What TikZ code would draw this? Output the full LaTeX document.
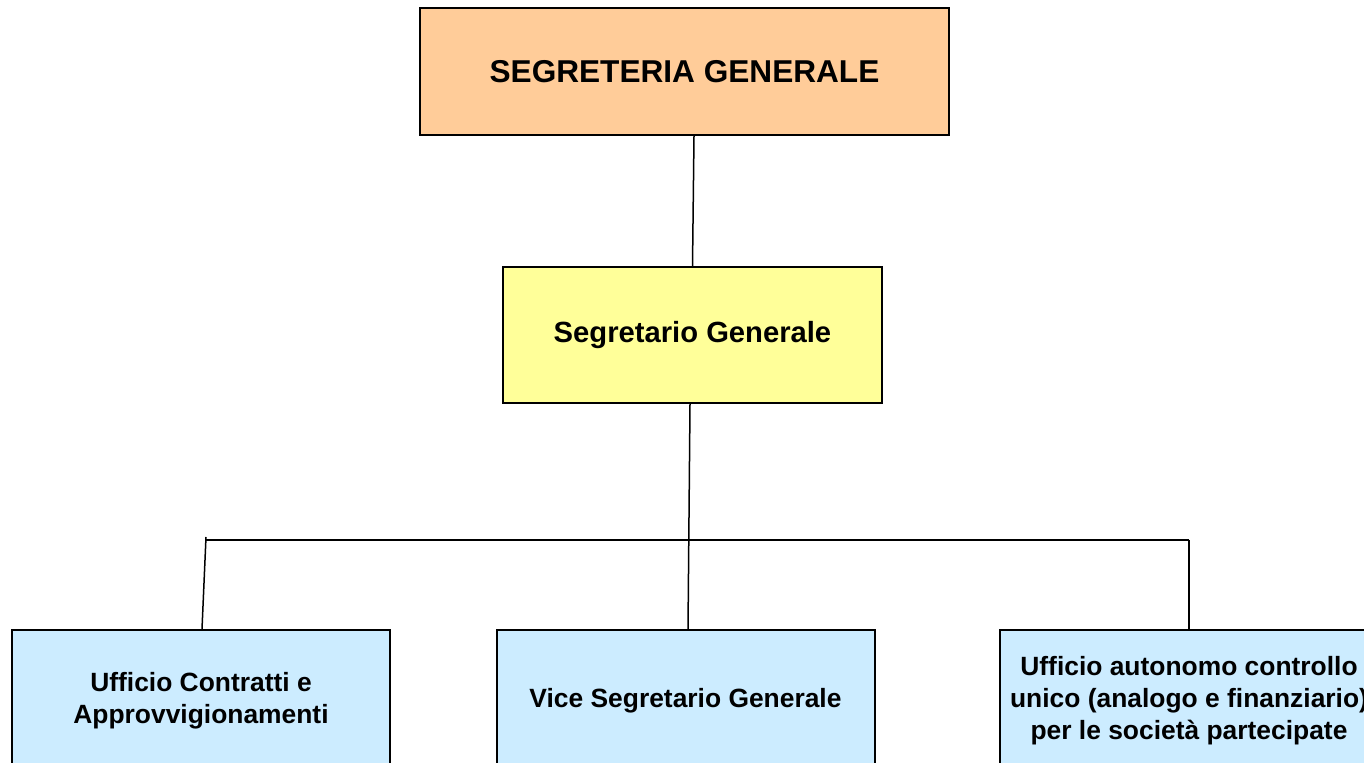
\documentclass[tikz,border=0pt]{standalone}
\usepackage{fontspec}
\setmainfont{Liberation Sans}
\tikzset{
  box/.style={draw=black,line width=1pt,align=center,font=\bfseries,
    inner sep=0pt},
  link/.style={draw=black,line width=0.75pt}
}
\definecolor{capo}{HTML}{FFCC99}
\definecolor{segr}{HTML}{FFFF99}
\definecolor{uff}{HTML}{CCECFF}
\begin{document}
\begin{tikzpicture}[x=0.5pt,y=-0.5pt]
  \useasboundingbox (0,0) rectangle (1364,763);
  \clip (0,0) rectangle (1364,763);
  % livelli
  \node[box,fill=capo,minimum width=264.5pt,minimum height=63.5pt,
    font=\bfseries\fontsize{15.8}{19}\selectfont] (sg) at (684.5,71.5)
    {SEGRETERIA GENERALE};
  \node[box,fill=segr,minimum width=189.5pt,minimum height=68pt,
    font=\bfseries\fontsize{14.6}{17}\selectfont] (segr) at (692.5,335)
    {Segretario Generale};
  \node[box,fill=uff,minimum width=189pt,minimum height=71pt,
    font=\bfseries\fontsize{13.2}{16}\selectfont] (contr) at (201,701)
    {Ufficio Contratti e\\Approvvigionamenti};
  \node[box,fill=uff,minimum width=189pt,minimum height=71pt,
    font=\bfseries\fontsize{13.2}{16}\selectfont] (vice) at (685.5,701)
    {Vice Segretario Generale};
  \node[box,fill=uff,minimum width=189pt,minimum height=71pt,
    font=\bfseries\fontsize{13.2}{16}\selectfont] (auton) at (1189,701)
    {Ufficio autonomo controllo\\unico (analogo e finanziario)\\per le società partecipate};
  % collegamenti
  \coordinate (sx) at (206,537);
  \coordinate (hx) at (206,540);
  \coordinate (dx) at (1189,540);
  \draw[link] ([xshift=4.75pt]sg.south) -- (segr.north);
  \draw[link] ([xshift=-1.25pt]segr.south) -- ([xshift=1.25pt]vice.north);
  \draw[link] (hx) -- (dx);
  \draw[link] (sx) -- ([xshift=0.5pt]contr.north);
  \draw[link] (dx) -- (auton.north);
\end{tikzpicture}
\end{document}
